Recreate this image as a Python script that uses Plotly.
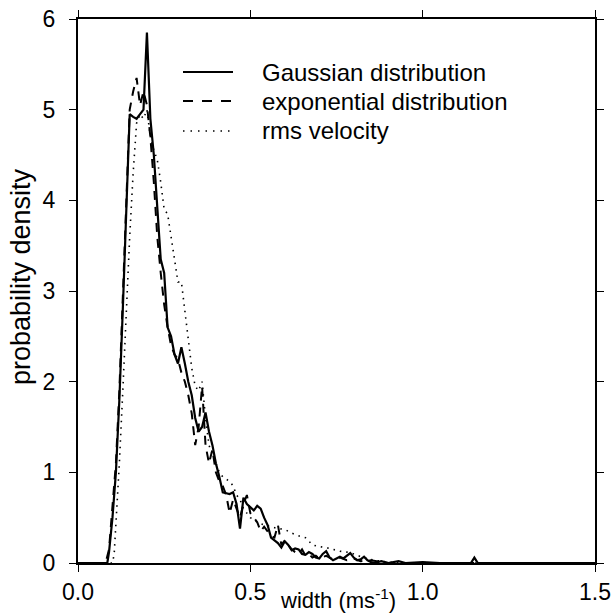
import plotly.graph_objects as go

# width bins (ms^-1) and probability densities
gauss_x = [0.0, 0.08, 0.085, 0.09, 0.10, 0.11, 0.12, 0.13, 0.14, 0.15, 0.16, 0.17, 0.18, 0.19, 0.20,
           0.21, 0.22, 0.23, 0.24, 0.25, 0.26, 0.27, 0.28, 0.29, 0.30, 0.31, 0.32, 0.33, 0.34, 0.35,
           0.36, 0.37, 0.38, 0.39, 0.40, 0.41, 0.42, 0.43, 0.44, 0.45, 0.46, 0.47, 0.48, 0.49, 0.50,
           0.51, 0.52, 0.53, 0.54, 0.55, 0.56, 0.57, 0.58, 0.59, 0.60, 0.61, 0.62, 0.63, 0.64, 0.65,
           0.66, 0.67, 0.68, 0.69, 0.70, 0.71, 0.72, 0.73, 0.74, 0.75, 0.76, 0.77, 0.78, 0.79, 0.80,
           0.81, 0.82, 0.83, 0.84, 0.85, 0.86, 0.88, 0.90, 0.93, 0.95, 1.00, 1.05, 1.14, 1.15, 1.16, 1.5]
gauss_y = [0, 0, 0, 0.12, 0.5, 1.0, 1.8, 2.8, 3.8, 4.95, 4.92, 4.9, 4.95, 5.0, 5.85,
           4.9, 4.5, 3.9, 3.35, 3.2, 2.6, 2.5, 2.3, 2.2, 2.38, 2.2, 2.0, 1.85, 1.6, 1.45,
           1.5, 1.66, 1.45, 1.3, 1.1, 0.95, 0.78, 0.77, 0.76, 0.78, 0.65, 0.38, 0.72, 0.65, 0.62,
           0.58, 0.63, 0.6, 0.5, 0.42, 0.28, 0.25, 0.22, 0.17, 0.24, 0.2, 0.14, 0.16, 0.15, 0.1,
           0.09, 0.12, 0.1, 0.06, 0.05, 0.1, 0.13, 0.06, 0.03, 0.05, 0.07, 0.05, 0.08, 0.11, 0.06,
           0.03, 0.04, 0.07, 0.03, 0.01, 0, 0.02, 0, 0.02, 0, 0.01, 0, 0, 0.06, 0, 0]

expo_x = [0.0, 0.08, 0.09, 0.10, 0.11, 0.12, 0.13, 0.14, 0.15, 0.16, 0.17, 0.18, 0.19, 0.20,
          0.21, 0.22, 0.23, 0.24, 0.25, 0.26, 0.27, 0.28, 0.29, 0.30, 0.31, 0.32, 0.33, 0.34, 0.35,
          0.36, 0.37, 0.38, 0.39, 0.40, 0.41, 0.42, 0.43, 0.44, 0.45, 0.46, 0.47, 0.48, 0.49, 0.50,
          0.51, 0.52, 0.53, 0.54, 0.55, 0.56, 0.57, 0.58, 0.59, 0.60, 0.61, 0.62, 0.63, 0.64, 0.65,
          0.66, 0.67, 0.68, 0.69, 0.70, 0.72, 0.74, 0.76, 0.78, 0.80, 0.82, 0.85, 0.88, 0.90, 1.0, 1.5]
expo_y = [0, 0, 0.15, 0.6, 1.1, 1.9, 3.0, 4.0, 5.0, 5.2, 5.35, 5.05, 5.2, 5.05,
          4.7, 4.2, 3.6, 3.2, 2.85, 2.6, 2.4, 2.3, 2.25, 2.1, 2.0, 1.85, 1.65, 1.3, 1.5,
          1.95, 1.3, 1.1, 1.25, 1.0, 0.9, 0.85, 0.75, 0.55, 0.7, 0.6, 0.5, 0.65, 0.75, 0.55,
          0.5, 0.45, 0.35, 0.4, 0.35, 0.3, 0.28, 0.42, 0.2, 0.25, 0.2, 0.15, 0.12, 0.1, 0.15,
          0.08, 0.1, 0.06, 0.08, 0.05, 0.08, 0.04, 0.06, 0.03, 0.05, 0.02, 0.03, 0.01, 0, 0, 0]

rms_x = [0.0, 0.10, 0.105, 0.11, 0.12, 0.13, 0.14, 0.15, 0.16, 0.17, 0.18, 0.19, 0.20,
         0.21, 0.22, 0.23, 0.24, 0.25, 0.26, 0.27, 0.28, 0.29, 0.30, 0.31, 0.32, 0.33, 0.34, 0.35,
         0.36, 0.37, 0.38, 0.39, 0.40, 0.41, 0.42, 0.43, 0.44, 0.45, 0.46, 0.47, 0.48, 0.49, 0.50,
         0.52, 0.54, 0.56, 0.58, 0.60, 0.62, 0.64, 0.66, 0.68, 0.70, 0.72, 0.74, 0.76, 0.78, 0.80,
         0.82, 0.84, 0.86, 0.88, 0.90, 0.95, 1.5]
rms_y = [0, 0, 0.1, 0.4, 1.1, 1.9, 2.8, 3.6, 4.3, 4.85, 4.95, 4.9, 5.0,
         4.7, 4.55, 4.45, 4.2, 3.9, 3.85, 3.6, 3.4, 3.1, 3.1, 2.8, 2.45, 2.15, 1.95, 1.9,
         2.0, 1.6, 1.3, 1.2, 1.1, 1.0, 0.95, 0.92, 0.9, 0.85, 0.75, 0.7, 0.6, 0.55, 0.5,
         0.45, 0.42, 0.4, 0.38, 0.37, 0.33, 0.3, 0.28, 0.2, 0.18, 0.17, 0.15, 0.13, 0.12, 0.1,
         0.07, 0.05, 0.03, 0.02, 0.01, 0, 0]

series_names = ["Gaussian distribution", "exponential distribution", "rms velocity"]
x_title = "width (ms<sup>-1</sup>)"
y_title = "probability density"

FONT = "Liberation Sans, Arial, Helvetica, sans-serif"
W, H = 611, 613
L, R, T, B = 78, 16, 19, 50

styles = [
    dict(color="black", width=2.2),
    dict(color="black", width=2, dash="9px,7px"),
    dict(color="black", width=1.6, dash="1.5px,5px"),
]

fig = go.Figure()
for xs, ys, name, st in zip([gauss_x, expo_x, rms_x], [gauss_y, expo_y, rms_y], series_names, styles):
    fig.add_trace(go.Scatter(x=xs, y=ys, mode="lines", name=name, line=st, showlegend=False))

# hand-made legend (line sample + label), placed in pixel terms
def px_x(p):
    return (p - L) / (W - L - R)

def px_y(p):
    return 1 - (p - T) / (H - T - B)

legend_rows = [72, 101, 131]
legend_dash = ["solid", "10px,9px", "1.5px,6px"]
for row, name, st, dsh in zip(legend_rows, series_names, styles, legend_dash):
    fig.add_shape(type="line", xref="paper", yref="paper",
                  x0=px_x(183), x1=px_x(233), y0=px_y(row), y1=px_y(row),
                  line=dict(color="black", width=st["width"], dash=dsh))
    fig.add_annotation(text=name, xref="paper", yref="paper", x=px_x(260), y=px_y(row),
                       xanchor="left", yanchor="middle", showarrow=False,
                       font=dict(family=FONT, size=24, color="black"))

axis_common = dict(
    showline=True, linecolor="black", linewidth=2, mirror="allticks",
    ticks="outside", ticklen=7, tickwidth=1, tickcolor="black",
    showgrid=False, zeroline=False, automargin=False,
    tickfont=dict(family=FONT, size=23, color="black"),
)

fig.update_xaxes(range=[0, 1.5], tickvals=[0, 0.5, 1.0, 1.5], tickformat=".1f",
                 ticklabelstandoff=0, **axis_common)
fig.update_yaxes(range=[0, 6], dtick=1, ticklabelstandoff=9, **axis_common)

# axis titles
fig.add_annotation(text=x_title, xref="paper", yref="paper", x=px_x(338), y=px_y(H + 2),
                   yanchor="bottom", showarrow=False, font=dict(family=FONT, size=22, color="black"))
fig.add_annotation(text=y_title, xref="paper", yref="paper", x=0, y=0.5, xanchor="center",
                   xshift=-57, yshift=14, textangle=-90, showarrow=False,
                   font=dict(family=FONT, size=27, color="black"))

fig.update_layout(
    width=W, height=H,
    margin=dict(l=L, r=R, t=T, b=B),
    plot_bgcolor="white", paper_bgcolor="white",
    font=dict(family=FONT, color="black"),
    showlegend=False,
)

fig.write_html("out.html", config={"displayModeBar": False},
               post_script="document.body.style.margin='0';")
